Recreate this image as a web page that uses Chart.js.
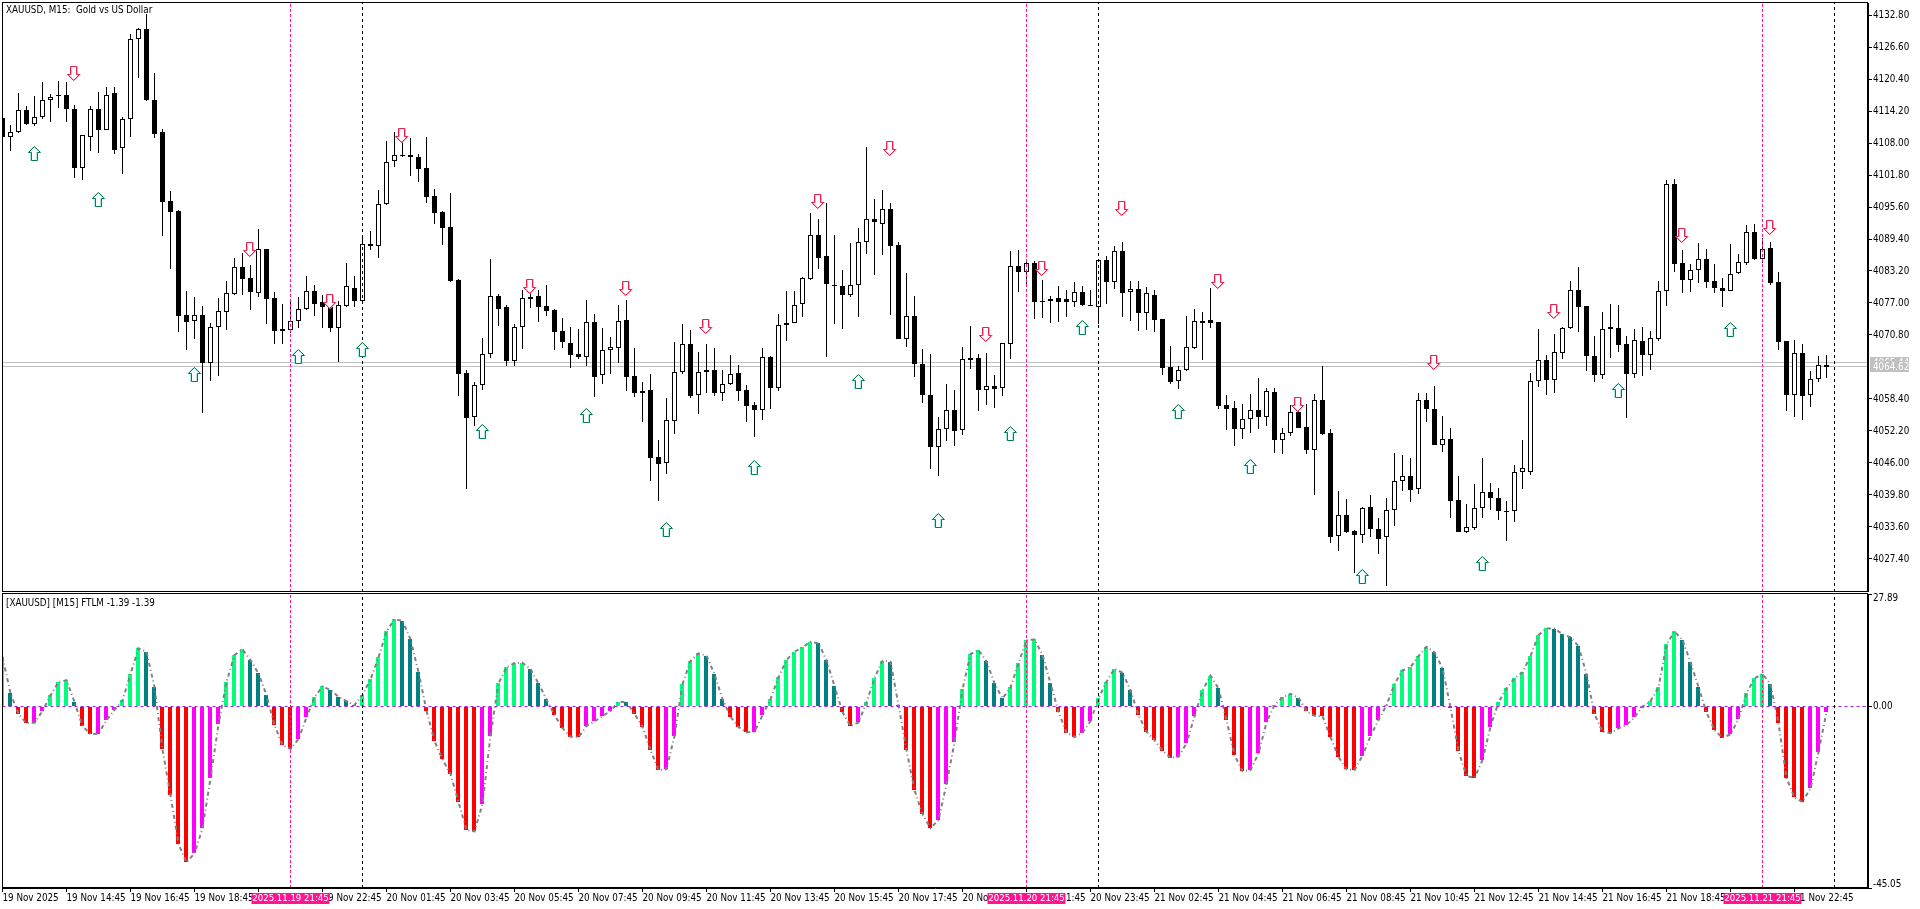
<!DOCTYPE html>
<html>
<head>
<meta charset="utf-8">
<title>XAUUSD, M15</title>
<script src="https://cdn.jsdelivr.net/npm/chart.js@4"></script>
<style>
html, body { margin: 0; padding: 0; background: #fff; overflow: hidden; }
canvas { position: absolute; left: 0; }
#priceChart { top: 0; }
#ftlmChart { top: 592px; }
</style>
</head>
<body>
<canvas id="priceChart" width="1920" height="592"></canvas>
<canvas id="ftlmChart" width="1920" height="317"></canvas>
<script>
// candles, one per 15 minutes
var opens = [
4112.8,4109.1,4110.1,4114.3,4111.6,4113.0,4116.3,4117.4,4117.4,4114.5,
4103.2,4109.2,4114.5,4110.6,4117.6,4107.0,4112.6,4128.1,4130.0,4116.3,
4110.1,4096.7,4094.8,4074.7,4073.6,4074.7,4065.4,4072.3,4075.3,4078.7,
4083.9,4081.8,4079.0,4087.4,4077.9,4071.9,4071.8,4073.6,4075.8,4079.3,
4077.1,4076.3,4072.2,4076.5,4080.0,4077.3,4088.4,4088.1,4096.2,4104.6,
4105.6,4105.7,4105.2,4103.1,4097.7,4094.6,4091.7,4081.4,4063.4,4055.0,
4061.2,4067.1,4078.4,4076.2,4065.8,4072.3,4077.7,4078.4,4076.4,4075.6,
4071.6,4069.2,4067.1,4066.6,4073.4,4063.0,4067.8,4068.2,4073.7,4062.9,
4059.9,4060.1,4047.2,4045.9,4054.2,4063.6,4069.0,4059.1,4063.6,4064.1,
4059.6,4061.4,4063.4,4060.1,4057.2,4056.3,4066.5,4060.6,4072.7,4073.2,
4076.9,4081.7,4090.1,4086.2,4080.5,4080.2,4078.6,4080.4,4088.9,4093.2,
4092.4,4095.3,4088.2,4070.1,4074.4,4065.1,4059.2,4049.0,4052.5,4056.2,
4052.3,4066.3,4066.3,4060.2,4060.9,4060.5,4069.1,4084.2,4083.1,4084.7,
4077.3,4077.3,4077.9,4077.7,4077.1,4079.1,4076.7,4076.3,4085.3,4081.1,
4087.0,4079.1,4079.8,4075.1,4078.5,4073.9,4064.6,4061.8,4064.0,4068.3,
4073.2,4073.8,4073.3,4057.2,4056.6,4052.5,4054.6,4056.2,4054.9,4059.8,
4050.5,4051.9,4055.9,4052.9,4048.6,4058.3,4051.8,4031.8,4035.9,4032.8,
4032.1,4037.4,4033.3,4031.6,4036.8,4042.6,4043.4,4040.9,4058.3,4056.5,
4049.4,4050.6,4038.8,4032.7,4033.4,4037.2,4040.3,4039.2,4036.7,4036.6,
4044.2,4044.3,4061.8,4065.9,4062.1,4067.4,4072.2,4079.6,4076.4,4066.7,
4063.1,4071.9,4072.1,4069.0,4063.3,4069.6,4067.0,4070.1,4079.4,4100.0,
4084.7,4081.5,4083.3,4085.5,4081.2,4080.0,4079.4,4082.9,4084.8,4090.7,
4085.6,4087.6,4081.0,4069.6,4059.1,4067.3,4059.1,4062.2,4064.9];
var highs = [
4113.4,4111.4,4117.6,4115.2,4117.1,4119.8,4117.5,4120.0,4119.8,4115.4,
4109.6,4115.2,4117.9,4118.8,4118.8,4113.0,4129.1,4130.3,4133.0,4121.5,
4110.8,4098.7,4095.1,4079.3,4078.1,4076.4,4073.1,4077.9,4081.3,4085.7,
4086.6,4084.3,4091.3,4087.4,4079.1,4076.8,4077.6,4078.1,4082.2,4080.5,
4078.5,4077.3,4077.3,4084.7,4082.2,4090.1,4090.9,4098.9,4108.4,4110.1,
4109.6,4109.0,4105.9,4109.2,4099.1,4094.9,4098.3,4081.6,4064.1,4061.7,
4070.2,4085.5,4078.7,4076.6,4072.9,4079.5,4080.0,4079.6,4080.5,4075.9,
4074.0,4072.3,4072.0,4077.6,4074.9,4072.2,4070.4,4076.6,4077.6,4068.3,
4061.7,4063.2,4050.5,4058.6,4069.4,4072.9,4071.8,4067.5,4069.0,4068.3,
4064.0,4066.9,4064.9,4061.1,4057.9,4068.2,4066.7,4074.9,4079.3,4079.3,
4082.0,4094.4,4093.2,4096.3,4090.1,4083.3,4088.6,4091.5,4107.2,4097.1,
4098.9,4096.3,4088.8,4082.8,4078.4,4068.1,4067.2,4054.9,4061.3,4060.1,
4068.4,4072.5,4067.2,4067.4,4063.0,4069.2,4087.1,4087.3,4085.0,4085.1,
4081.4,4078.4,4080.3,4079.6,4081.0,4080.2,4079.6,4085.3,4086.1,4088.0,
4088.8,4081.2,4081.2,4080.1,4079.6,4073.9,4068.7,4064.7,4074.5,4075.8,
4075.2,4079.9,4073.3,4059.2,4058.0,4057.4,4059.4,4062.4,4060.5,4060.5,
4052.7,4057.2,4056.9,4057.4,4059.3,4064.8,4052.5,4040.6,4039.1,4033.1,
4037.4,4039.7,4035.3,4039.2,4047.9,4047.5,4046.9,4059.5,4059.5,4060.9,
4055.1,4052.8,4043.5,4038.0,4041.9,4046.9,4042.1,4041.1,4038.6,4045.7,
4050.5,4063.4,4071.9,4067.0,4071.0,4072.3,4081.3,4084.0,4076.4,4070.6,
4075.2,4076.9,4076.6,4070.6,4071.9,4072.3,4071.5,4081.3,4100.8,4101.0,
4087.3,4084.6,4088.7,4087.5,4084.6,4081.8,4088.4,4086.5,4092.1,4092.3,
4089.5,4088.8,4083.0,4069.6,4069.8,4069.0,4063.8,4066.7,4066.9];
var lows = [
4108.6,4106.5,4110.0,4111.5,4111.3,4112.6,4112.1,4114.7,4112.1,4101.3,
4100.8,4106.4,4106.1,4110.5,4105.9,4102.0,4109.2,4120.6,4116.1,4109.0,
4090.0,4083.6,4071.4,4067.8,4070.0,4055.6,4061.8,4062.9,4071.8,4078.5,
4078.5,4075.6,4078.2,4072.9,4069.0,4069.0,4071.1,4072.2,4075.7,4074.5,
4072.1,4071.3,4065.6,4076.2,4076.3,4077.2,4087.3,4085.8,4096.0,4103.4,
4105.2,4101.7,4100.5,4096.4,4092.4,4088.2,4081.1,4059.0,4041.0,4053.2,
4060.1,4066.3,4072.5,4064.8,4064.7,4068.1,4076.0,4073.4,4074.5,4067.9,
4068.3,4064.5,4066.2,4064.8,4058.7,4061.3,4063.3,4065.4,4060.0,4058.7,
4054.0,4042.6,4038.7,4043.9,4051.6,4063.2,4058.6,4055.4,4059.6,4058.9,
4058.1,4061.2,4058.1,4053.9,4051.0,4054.3,4056.5,4060.0,4069.7,4073.1,
4074.3,4081.4,4083.6,4066.6,4073.0,4072.0,4078.2,4074.2,4086.4,4082.4,
4086.3,4074.7,4070.0,4068.5,4062.7,4057.7,4044.8,4043.5,4050.3,4049.2,
4051.5,4064.3,4056.1,4057.3,4056.7,4059.0,4066.1,4079.2,4080.2,4073.9,
4074.0,4073.2,4073.4,4074.2,4076.2,4076.4,4076.4,4072.9,4076.8,4079.8,
4074.3,4073.6,4071.6,4071.8,4071.4,4063.1,4061.4,4060.4,4063.9,4068.0,
4065.9,4072.2,4056.5,4052.3,4049.2,4050.6,4051.9,4052.6,4053.2,4048.0,
4047.7,4051.2,4052.8,4047.7,4039.8,4051.4,4030.4,4029.0,4032.5,4024.7,
4030.4,4031.7,4028.4,4022.2,4033.8,4040.6,4038.5,4040.0,4054.0,4049.4,
4048.2,4035.4,4032.6,4032.4,4033.1,4035.3,4036.9,4035.0,4030.9,4034.6,
4041.0,4043.7,4060.8,4059.2,4059.6,4066.1,4072.0,4071.4,4063.9,4061.6,
4062.2,4066.4,4067.6,4054.8,4062.5,4062.9,4064.0,4069.7,4076.5,4083.1,
4079.0,4079.2,4080.9,4080.0,4079.0,4076.3,4079.4,4082.6,4084.3,4085.3,
4084.7,4080.4,4067.9,4056.1,4054.9,4054.4,4056.9,4061.6,4062.5];
var closes = [
4109.1,4110.1,4114.3,4111.6,4113.0,4116.3,4117.0,4117.2,4114.5,4103.2,
4109.5,4114.5,4110.6,4117.4,4106.7,4112.6,4128.1,4130.0,4116.4,4109.8,
4096.6,4094.7,4074.5,4073.4,4074.7,4065.4,4072.3,4075.4,4078.9,4083.9,
4081.7,4079.2,4087.4,4077.8,4071.6,4071.6,4073.6,4075.8,4079.4,4076.9,
4076.3,4072.2,4076.7,4080.2,4077.4,4088.4,4088.0,4096.1,4104.4,4105.6,
4105.5,4105.2,4103.0,4097.6,4094.5,4091.6,4081.3,4063.2,4054.8,4061.2,
4067.1,4078.4,4075.9,4065.8,4072.3,4077.9,4078.2,4076.3,4075.5,4071.4,
4069.5,4067.0,4066.5,4073.4,4062.7,4067.8,4068.4,4073.6,4062.7,4059.6,
4059.6,4047.0,4045.8,4054.3,4063.6,4069.0,4059.0,4063.6,4064.1,4059.6,
4061.4,4063.3,4060.0,4057.1,4056.3,4066.5,4060.6,4072.7,4073.2,4076.7,
4081.8,4090.1,4085.8,4080.6,4080.3,4078.6,4080.4,4088.9,4093.2,4092.6,
4095.3,4088.1,4070.1,4074.4,4065.1,4059.1,4049.0,4052.5,4056.2,4052.2,
4066.1,4065.9,4060.2,4060.9,4060.4,4069.2,4084.1,4083.1,4084.7,4077.1,
4077.1,4077.8,4077.1,4077.1,4079.1,4076.7,4076.6,4085.3,4081.1,4087.0,
4079.0,4079.8,4075.1,4078.9,4073.8,4064.5,4061.7,4064.0,4068.4,4073.6,
4073.6,4073.2,4057.0,4056.5,4052.5,4054.6,4056.2,4055.0,4059.9,4050.5,
4051.9,4055.8,4052.8,4048.6,4058.3,4051.7,4031.6,4036.0,4032.6,4032.1,
4037.2,4033.3,4031.3,4036.8,4042.6,4043.4,4040.8,4058.3,4056.5,4049.4,
4050.6,4038.7,4032.6,4033.5,4037.2,4040.3,4039.3,4036.6,4036.6,4044.2,
4045.0,4061.8,4065.9,4062.1,4067.6,4072.1,4079.6,4076.3,4066.8,4063.1,
4071.9,4072.3,4068.9,4063.3,4069.8,4067.0,4070.2,4079.3,4100.0,4084.6,
4081.5,4083.3,4085.5,4081.1,4079.9,4079.4,4082.7,4084.9,4090.7,4085.6,
4087.5,4080.9,4069.5,4059.1,4067.4,4058.9,4062.2,4064.9,4064.62];

// FTLM indicator, same bars
var ftlm = [
12.32,3.23,-1.90,-4.14,-4.05,-1.16,2.73,6.04,6.53,1.08,
-4.88,-6.86,-6.78,-3.39,-0.91,1.49,8.02,14.39,13.56,4.80,
-10.67,-22.00,-34.16,-38.70,-36.47,-30.27,-17.86,-4.47,6.04,12.74,
14.14,11.50,8.19,2.81,-4.63,-9.59,-10.59,-8.10,-2.73,2.23,
4.96,4.05,2.40,1.32,0.33,2.89,6.70,12.16,18.61,21.58,
21.25,16.62,8.52,-1.08,-8.60,-13.15,-16.79,-23.73,-30.68,-31.01,
-24.23,-7.28,5.71,9.68,10.75,10.83,9.26,5.71,1.74,-2.15,
-5.38,-7.53,-7.61,-4.88,-3.72,-2.40,-1.16,1.16,1.08,-1.82,
-5.04,-10.83,-15.80,-15.55,-7.36,5.54,11.25,13.15,12.57,8.02,
1.82,-2.56,-5.13,-6.45,-6.28,-2.23,1.82,7.19,11.50,13.56,
14.64,16.04,15.63,11.50,5.04,-1.41,-4.88,-3.97,0.99,7.03,
11.33,11.08,0.33,-10.83,-20.76,-26.71,-30.18,-28.20,-19.27,-8.93,
4.22,12.98,13.98,11.17,5.71,1.98,4.71,10.67,16.46,16.62,
12.82,5.71,-1.32,-6.53,-7.61,-6.53,-3.64,1.98,6.12,9.34,
8.35,4.05,-2.15,-6.28,-8.35,-11.00,-12.74,-12.49,-9.18,-2.48,
3.97,7.61,4.47,-3.39,-12.07,-16.04,-15.80,-11.66,-3.97,0.33,
2.23,3.14,2.15,-1.16,-2.32,-2.40,-7.61,-12.49,-15.63,-15.80,
-12.24,-7.36,-3.39,0.33,5.54,8.93,9.68,12.49,14.80,13.40,
9.51,-0.25,-11.08,-17.28,-17.70,-13.31,-5.04,0.99,4.47,6.95,
8.44,12.49,17.70,19.35,19.27,17.95,17.12,14.97,8.02,-1.90,
-6.28,-6.62,-5.46,-4.63,-2.73,-0.08,1.32,4.71,15.38,18.61,
16.46,11.00,4.80,-1.49,-5.87,-7.77,-6.95,-3.14,3.23,6.95,
8.10,5.54,-4.14,-17.78,-22.58,-23.73,-20.34,-11.33,-1.39];

// signal arrows: bar position and price
var downBars = [8.85,30.85,40.9,49.9,65.9,77.9,87.9,101.85,110.85,122.9,129.9,139.9,151.85,161.85,178.85,193.9,209.9,220.9];
var downPrices = [4121.5,4087.3,4077.2,4109.5,4080.2,4079.8,4072.5,4096.6,4107.0,4070.9,4083.6,4095.3,4081.2,4057.3,4065.4,4075.4,4090.1,4091.7];
var upBars = [4,12,24,37,45,60,73,83,94,107,117,126,135,147,156,170,185,202,216];
var upPrices = [4106.0,4097.1,4063.2,4066.6,4068.0,4052.1,4055.2,4033.1,4045.2,4061.8,4034.9,4051.7,4072.3,4056.0,4045.4,4024.0,4026.6,4060.1,4071.9];

var priceTicks = [4132.80,4126.60,4120.40,4114.20,4108.00,4101.80,4095.60,4089.40,4083.20,4077.00,4070.80,4058.40,4052.20,4046.00,4039.80,4033.60,4027.40];
var bidAsk = [4065.44,4064.62];
var ftlmTicks = [27.89,0,-45.05];

var timeLabels = ['19 Nov 2025','19 Nov 14:45','19 Nov 16:45','19 Nov 18:45','19 Nov 20:45','19 Nov 22:45','20 Nov 01:45','20 Nov 03:45','20 Nov 05:45','20 Nov 07:45',
  '20 Nov 09:45','20 Nov 11:45','20 Nov 13:45','20 Nov 15:45','20 Nov 17:45','20 Nov 19:45','20 Nov 21:45','20 Nov 23:45','21 Nov 02:45','21 Nov 04:45',
  '21 Nov 06:45','21 Nov 08:45','21 Nov 10:45','21 Nov 12:45','21 Nov 14:45','21 Nov 16:45','21 Nov 18:45','21 Nov 20:45','21 Nov 22:45'];

// vertical session lines
var pinkBars = [36,128,220];
var pinkLabels = ['2025.11.19 21:45','2025.11.20 21:45','2025.11.21 21:45'];
var blackBars = [45,137,229];

var FONT_FAMILY = '"DejaVu Sans Condensed", "Liberation Sans"';
var FONT_SIZE = 9.75;
var FONT = FONT_SIZE + 'px ' + FONT_FAMILY;
var BAR_PX = 8;
var X_MAX = 233.1875;
var AXIS_W = 52;

function arrowSprite(up, color, fringe) {
  var c = document.createElement('canvas');
  c.width = 15; c.height = 15;
  var g = c.getContext('2d');
  var pts = [[4.5,.5],[10.5,.5],[10.5,8.5],[13.5,8.5],[7.5,14.5],[1.5,8.5],[4.5,8.5]];
  function outline(dx) {
    g.beginPath();
    pts.forEach(function(p, k) {
      var y = up ? 15 - p[1] : p[1];
      if (k == 0) g.moveTo(p[0] + dx, y); else g.lineTo(p[0] + dx, y);
    });
    g.closePath();
  }
  outline(0);
  g.fillStyle = '#fff';
  g.fill();
  g.lineWidth = 1;
  outline(up ? -1 : 1);
  g.strokeStyle = fringe;
  g.stroke();
  outline(0);
  g.strokeStyle = color;
  g.stroke();
  return c;
}

// pixel snapping like the terminal does
var snap = {
  id: 'snap',
  afterDatasetsUpdate: function(chart) {
    chart.getSortedVisibleDatasetMetas().forEach(function(meta) {
      var ds = meta.controller.getDataset();
      if (meta.type == 'bar') {
        meta.data.forEach(function(el) {
          el.y = Math.round(el.y);
          el.base = Math.round(el.base);
          if (el.y == el.base) el.base = el.y + 1;
          if (ds.snapLeft) el.x = Math.floor(el.x);
        });
      } else if (meta.type == 'scatter') {
        meta.data.forEach(function(el) {
          el.x = Math.floor(el.x) + .5;
          el.y = Math.floor(el.y) + .5;
        });
      } else if (ds.snapY) {
        meta.data.forEach(function(el) { el.y = Math.floor(el.y) + .5; });
      }
    });
  }
};

var paneBorder = {
  id: 'paneBorder',
  afterDraw: function(chart) {
    var a = chart.chartArea, c = chart.ctx;
    c.save();
    c.strokeStyle = '#000';
    c.lineWidth = 1;
    c.strokeRect(a.left, a.top - .5, a.right - a.left - .5, a.bottom - a.top);
    c.restore();
  }
};

function vlines(bars, color, dash, lo, hi, order) {
  return bars.map(function(b) {
    return { type: 'line', data: [{x: b, y: lo}, {x: b, y: hi}], borderColor: color, borderWidth: 1,
      borderDash: dash, pointRadius: 0, order: order };
  });
}

var PRICE_MIN = 4021.0, PRICE_MAX = 4135.13;

function rows(fn) { return opens.map(function(o, i) { return fn(i); }); }

var priceData = [];
bidAsk.forEach(function(p) {
  priceData.push({ type: 'line', data: [{x: 0, y: p}, {x: X_MAX, y: p}], borderColor: '#c0c0c0', borderWidth: 1, pointRadius: 0, snapY: true, order: 10 });
});
priceData.push({ type: 'bar', data: rows(function(i) { return {x: i, y: [lows[i], highs[i]]}; }),
  backgroundColor: '#000', borderWidth: 0, grouped: false, barPercentage: 1, maxBarThickness: 1, order: 5 });
priceData.push({ type: 'bar', data: rows(function(i) { return {x: i, y: [opens[i], closes[i]]}; }),
  backgroundColor: rows(function(i) { return closes[i] >= opens[i] ? '#fff' : '#000'; }),
  borderColor: '#000', borderWidth: 1, borderSkipped: false, grouped: false, barPercentage: 1, maxBarThickness: 5, order: 4 });
priceData = priceData.concat(vlines(pinkBars, '#ff1493', [3,2], PRICE_MIN, PRICE_MAX, 3));
priceData = priceData.concat(vlines(blackBars, '#000', [3,3], PRICE_MIN, PRICE_MAX, 3));
priceData.push({ type: 'scatter', data: downBars.map(function(b, k) { return {x: b, y: downPrices[k]}; }),
  pointStyle: arrowSprite(false, '#e8204f', 'rgba(255,150,175,.8)'), order: 1 });
priceData.push({ type: 'scatter', data: upBars.map(function(b, k) { return {x: b, y: upPrices[k]}; }),
  pointStyle: arrowSprite(true, '#0a7d4a', 'rgba(130,230,230,.7)'), order: 1 });

var priceOverlay = {
  id: 'priceOverlay',
  afterDraw: function(chart) {
    var c = chart.ctx, y = chart.scales.y;
    c.save();
    c.font = FONT;
    c.textBaseline = 'middle';
    c.fillStyle = '#000';
    c.fillText('XAUUSD, M15:  Gold vs US Dollar', 6, 10);
    bidAsk.forEach(function(p) {
      var py = Math.round(y.getPixelForValue(p));
      c.fillStyle = '#c0c0c0';
      c.fillRect(1870, py - 6, 39, 11);
      c.fillStyle = '#fff';
      c.fillText(p.toFixed(2), 1873, py);
    });
    c.restore();
  }
};

new Chart(document.getElementById('priceChart'), {
  type: 'bar',
  data: { datasets: priceData },
  plugins: [snap, priceOverlay, paneBorder],
  options: {
    responsive: false,
    devicePixelRatio: 1,
    animation: false,
    events: [],
    layout: { autoPadding: false, padding: { left: 2.5, top: 3, right: 0, bottom: 0 } },
    plugins: { legend: { display: false }, tooltip: { enabled: false } },
    scales: {
      x: { type: 'linear', display: false, offset: false, min: 0, max: X_MAX, grid: { offset: false } },
      y: {
        type: 'linear', position: 'right', min: PRICE_MIN, max: PRICE_MAX,
        afterFit: function(s) { s.width = AXIS_W; s.paddingTop = 0; s.paddingBottom = 0; },
        afterBuildTicks: function(s) { s.ticks = priceTicks.map(function(v) { return {value: v}; }); },
        grid: { drawOnChartArea: false, color: '#000', tickLength: 4 },
        border: { color: '#000' },
        ticks: { color: '#000', font: { family: FONT_FAMILY, size: FONT_SIZE }, padding: 1, autoSkip: false, align: 'center',
          callback: function(v) { return v.toFixed(2); } }
      }
    }
  }
});

var SPRING = '#00ff7f', TEAL = '#008080', RED = '#ff0000', MAGENTA = '#ff00ff';
function ftlmColor(i) {
  if (ftlm[i] >= 0) return (i == 0 || ftlm[i] >= ftlm[i-1]) ? SPRING : TEAL;
  return ftlm[i] < ftlm[i-1] ? RED : MAGENTA;
}

var FTLM_MIN = -45.05, FTLM_MAX = 27.89;
var ftlmData = [];
ftlmData.push({ type: 'bar', data: ftlm.map(function(v, i) { return {x: i, y: v}; }),
  backgroundColor: ftlm.map(function(v, i) { return ftlmColor(i); }), borderWidth: 0, snapLeft: true,
  grouped: false, barPercentage: 1, maxBarThickness: 4, order: 6 });
ftlmData.push({ type: 'line', data: ftlm.map(function(v, i) { return {x: i, y: v}; }),
  borderColor: '#808080', borderWidth: 2, borderDash: [4,3,1,3], pointRadius: 0, tension: 0, order: 5 });
ftlmData.push({ type: 'line', data: [{x: 0, y: 0}, {x: X_MAX, y: 0}], borderColor: '#a020f0', borderWidth: 1, borderDash: [3,3], pointRadius: 0, snapY: true, order: 4 });
ftlmData = ftlmData.concat(vlines(pinkBars, '#ff1493', [3,2], FTLM_MIN, FTLM_MAX, 3));
ftlmData = ftlmData.concat(vlines(blackBars, '#000', [3,3], FTLM_MIN, FTLM_MAX, 3));

var ftlmOverlay = {
  id: 'ftlmOverlay',
  afterDraw: function(chart) {
    var c = chart.ctx, y = chart.scales.y, x = chart.scales.x;
    c.save();
    c.font = FONT;
    c.textBaseline = 'middle';
    c.fillStyle = '#000';
    c.fillText('[XAUUSD] [M15] FTLM -1.39 -1.39', 6, 11);
    ftlmTicks.forEach(function(v) {
      var py = y.getPixelForValue(v);
      if (v == FTLM_MAX) py += 4;
      if (v == FTLM_MIN) py -= 4;
      c.fillText(v.toFixed(2), 1873, py);
    });
    c.font = '9.5px ' + FONT_FAMILY;
    pinkBars.forEach(function(b, k) {
      var px = x.getPixelForValue(b);
      c.fillStyle = '#ff1493';
      c.fillRect(px - 39, 301, 78, 11);
      c.fillStyle = '#fff';
      c.textAlign = 'center';
      c.fillText(pinkLabels[k], px, 307);
      c.textAlign = 'left';
    });
    c.restore();
  }
};

new Chart(document.getElementById('ftlmChart'), {
  type: 'bar',
  data: { datasets: ftlmData },
  plugins: [snap, ftlmOverlay, paneBorder],
  options: {
    responsive: false,
    devicePixelRatio: 1,
    animation: false,
    events: [],
    layout: { autoPadding: false, padding: { left: 2.5, top: 2, right: 0, bottom: 0 } },
    plugins: { legend: { display: false }, tooltip: { enabled: false } },
    scales: {
      x: {
        type: 'linear', offset: false, min: 0, max: X_MAX,
        afterFit: function(s) { s.height = 21; s.paddingLeft = 0; s.paddingRight = 0; },
        afterBuildTicks: function(s) { s.ticks = timeLabels.map(function(t, k) { return {value: k * BAR_PX}; }); },
        grid: { offset: false, drawOnChartArea: false, color: '#000', tickLength: 4 },
        border: { color: '#000' },
        ticks: { color: '#000', font: { family: FONT_FAMILY, size: FONT_SIZE }, padding: 1, autoSkip: false, maxRotation: 0, align: 'start',
          callback: function(v, k) { return timeLabels[k]; } }
      },
      y: {
        type: 'linear', position: 'right', min: FTLM_MIN, max: FTLM_MAX,
        afterFit: function(s) { s.width = AXIS_W; s.paddingTop = 0; s.paddingBottom = 0; },
        afterBuildTicks: function(s) { s.ticks = ftlmTicks.map(function(v) { return {value: v}; }); },
        grid: { drawOnChartArea: false, color: '#000', tickLength: 4 },
        border: { color: '#000' },
        ticks: { display: false }
      }
    }
  }
});
</script>
</body>
</html>
